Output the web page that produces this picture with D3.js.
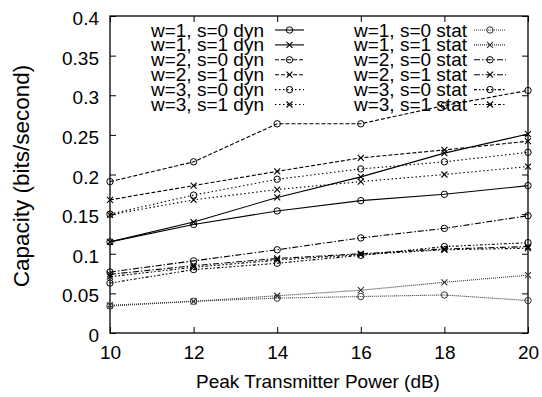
<!DOCTYPE html>
<html>
<head>
<meta charset="utf-8">
<script src="https://cdn.jsdelivr.net/npm/d3@7"></script>
<style>
  body { margin: 0; background: #fff; }
  svg { display: block; font-family: "Liberation Sans", Arial, Helvetica, sans-serif; }
</style>
</head>
<body>
<svg id="chart" width="542" height="397"></svg>
<script>
// x values (dB)
var powers = [10, 12, 14, 16, 18, 20];
var yTickValues = [0, 0.05, 0.1, 0.15, 0.2, 0.25, 0.3, 0.35, 0.4];
var yTickLabels = ["0", "0.05", "0.1", "0.15", "0.2", "0.25", "0.3", "0.35", "0.4"];
var xTickLabels = ["10", "12", "14", "16", "18", "20"];

// dynamic
var w1s0Dyn = [0.115, 0.137, 0.154, 0.167, 0.175, 0.186];
var w1s1Dyn = [0.115, 0.140, 0.171, 0.197, 0.227, 0.251];
var w2s0Dyn = [0.191, 0.216, 0.264, 0.264, 0.287, 0.306];
var w2s1Dyn = [0.168, 0.186, 0.204, 0.221, 0.231, 0.242];
var w3s0Dyn = [0.150, 0.174, 0.194, 0.207, 0.216, 0.228];
var w3s1Dyn = [0.149, 0.168, 0.181, 0.191, 0.200, 0.210];
// static
var w1s0Stat = [0.034, 0.040, 0.044, 0.046, 0.048, 0.041];
var w1s1Stat = [0.035, 0.040, 0.047, 0.054, 0.064, 0.073];
var w2s0Stat = [0.077, 0.091, 0.105, 0.120, 0.132, 0.148];
var w2s1Stat = [0.074, 0.085, 0.094, 0.100, 0.106, 0.109];
var w3s0Stat = [0.063, 0.080, 0.088, 0.098, 0.109, 0.114];
var w3s1Stat = [0.071, 0.083, 0.092, 0.099, 0.105, 0.107];

var seriesNames = ["w=1, s=0 dyn", "w=1, s=1 dyn", "w=2, s=0 dyn", "w=2, s=1 dyn", "w=3, s=0 dyn", "w=3, s=1 dyn",
                   "w=1, s=0 stat", "w=1, s=1 stat", "w=2, s=0 stat", "w=2, s=1 stat", "w=3, s=0 stat", "w=3, s=1 stat"];
var seriesValues = [w1s0Dyn, w1s1Dyn, w2s0Dyn, w2s1Dyn, w3s0Dyn, w3s1Dyn,
                    w1s0Stat, w1s1Stat, w2s0Stat, w2s1Stat, w3s0Stat, w3s1Stat];

// line style per series (dash, colour), marker: o / x alternating
var dashes = [null, null, "4,2", "4,2", "1.5,2.5", "1.5,2.5",
              "1,1", "1,1", "6,2,1.5,2", "6,2,1.5,2", "3,2,1.5,2,1.5,2", "3,2,1.5,2,1.5,2"];
var colors = ["#000", "#000", "#000", "#000", "#000", "#000",
              "#333", "#333", "#000", "#000", "#000", "#000"];

var svg = d3.select("#chart");
var plotLeft = 110, plotRight = 528, plotTop = 16, plotBottom = 333;

var x = d3.scaleLinear().domain([10, 20]).range([plotLeft, plotRight]);
var y = d3.scaleLinear().domain([0, 0.4]).range([plotBottom, plotTop]);

// axes (ticks pointing inward, all four sides)
var gy = svg.append("g").attr("transform", "translate(" + plotLeft + ",0)")
  .call(d3.axisLeft(y).tickValues(yTickValues)
    .tickFormat(function(d, i) { return yTickLabels[i]; })
    .tickSizeInner(-6).tickSizeOuter(0).tickPadding(11));
gy.selectAll("text").attr("dy", "0.45em");

var gx = svg.append("g").attr("transform", "translate(0," + plotBottom + ")")
  .call(d3.axisBottom(x).tickValues(powers)
    .tickFormat(function(d, i) { return xTickLabels[i]; })
    .tickSizeInner(-6).tickSizeOuter(0).tickPadding(13));

svg.append("g").attr("transform", "translate(" + plotRight + ",0)")
  .call(d3.axisRight(y).tickValues(yTickValues).tickFormat("").tickSizeInner(-6).tickSizeOuter(0));
svg.append("g").attr("transform", "translate(0," + plotTop + ")")
  .call(d3.axisTop(x).tickValues(powers).tickFormat("").tickSizeInner(-6).tickSizeOuter(0));

svg.selectAll(".domain").remove();
svg.selectAll(".tick line").attr("stroke", "#000").attr("stroke-width", 1);
svg.selectAll(".tick text").attr("font-size", 19).attr("font-family", null).attr("fill", "#000");

svg.append("rect")
  .attr("x", plotLeft).attr("y", plotTop)
  .attr("width", plotRight - plotLeft).attr("height", plotBottom - plotTop)
  .attr("fill", "none").attr("stroke", "#000").attr("stroke-width", 1.3);

// axis titles
svg.append("text")
  .attr("x", 318).attr("y", 388)
  .attr("text-anchor", "middle").attr("font-size", 19)
  .text("Peak Transmitter Power (dB)");
svg.append("text")
  .attr("transform", "translate(29,176) rotate(-90)")
  .attr("text-anchor", "middle").attr("font-size", 22.5)
  .text("Capacity (bits/second)");

function drawMarker(g, i, cx, cy) {
  var c = colors[i];
  if (i % 2 === 0) {
    g.append("circle").attr("cx", cx).attr("cy", cy).attr("r", 3.2)
      .attr("fill", "none").attr("stroke", c).attr("stroke-width", 1);
  } else {
    var s = 3;
    g.append("path")
      .attr("d", "M" + (cx - s) + "," + (cy - s) + "L" + (cx + s) + "," + (cy + s) +
                 "M" + (cx - s) + "," + (cy + s) + "L" + (cx + s) + "," + (cy - s))
      .attr("stroke", c).attr("stroke-width", 1.1);
  }
}

var line = d3.line()
  .x(function(d, i) { return x(powers[i]); })
  .y(function(d) { return y(d); });

var plot = svg.append("g");
seriesValues.forEach(function(vals, i) {
  plot.append("path")
    .attr("d", line(vals))
    .attr("fill", "none")
    .attr("stroke", colors[i])
    .attr("stroke-width", 1.1)
    .attr("stroke-dasharray", dashes[i]);
  vals.forEach(function(v, j) { drawMarker(plot, i, x(powers[j]), y(v)); });
});

// legend, two columns, no box
var legend = svg.append("g");
seriesNames.forEach(function(name, i) {
  var col = Math.floor(i / 6), row = i % 6;
  var textRight = col === 0 ? 264 : 467;
  var x1 = col === 0 ? 275 : 474, x2 = col === 0 ? 304 : 506;
  var base = 36.5 + 14.9 * row;
  var my = base - 6.5;
  legend.append("text")
    .attr("x", textRight).attr("y", base)
    .attr("text-anchor", "end").attr("font-size", 19)
    .text(name);
  legend.append("line")
    .attr("x1", x1).attr("x2", x2).attr("y1", my).attr("y2", my)
    .attr("stroke", colors[i]).attr("stroke-width", 1.1)
    .attr("stroke-dasharray", dashes[i]);
  drawMarker(legend, i, (x1 + x2) / 2, my);
});
</script>
</body>
</html>
